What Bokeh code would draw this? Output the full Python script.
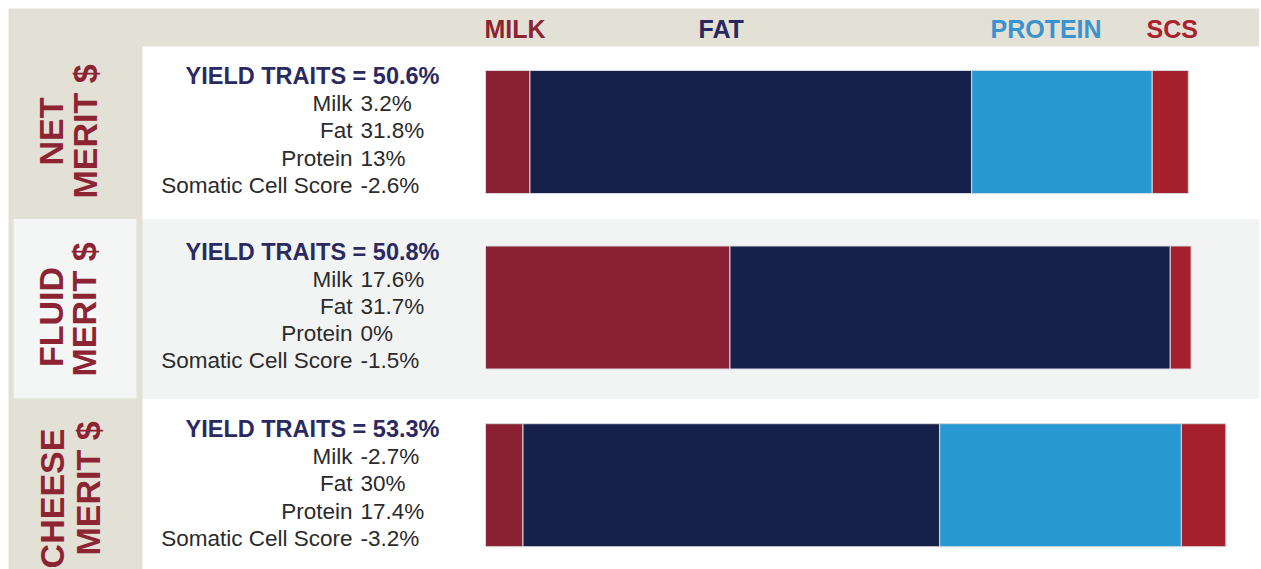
from bokeh.plotting import figure
from bokeh.models import Range1d, ColumnDataSource
from bokeh.core.properties import value
from bokeh.embed import file_html
from bokeh.resources import INLINE
import math

# ---------------- data ----------------
index_names = ["NET", "FLUID", "CHEESE"]
index_suffix = "MERIT $"
yield_total = [50.6, 50.8, 53.3]
milk = [3.2, 17.6, -2.7]
fat = [31.8, 31.7, 30.0]
protein = [13.0, 0.0, 17.4]
scs = [-2.6, -1.5, -3.2]
trait_labels = ["Milk", "Fat", "Protein", "Somatic Cell Score"]
header_labels = ["MILK", "FAT", "PROTEIN", "SCS"]

# ---------------- style / layout ----------------
seg_colors = ["#8a2233", "#172048", "#2898d2", "#a5202d"]
header_colors = ["#8b2333", "#28285f", "#3a93cf", "#a9232f"]
BEIGE = "#e3e1d6"
GREY = "#f2f3f3"
LABEL_RED = "#8c2434"
NAVY_TXT = "#2a2a60"
DARK_TXT = "#2b2b2b"
FONT = value("Liberation Sans")

W, H = 1259, 569
X0 = 485.0      # px of value 0
K = 13.89       # px per percentage point
ROW_C = [131.5, 307.0, 484.7]
BAR_H = 123
HEADER_X = [484, 698, 990, 1146]


def dx(px):
    return (px - X0) / K


p = figure(width=W, height=H, x_range=Range1d(dx(0), dx(W)),
           y_range=Range1d(H, 0), output_backend="svg",
           toolbar_location=None, min_border=0)
p.axis.visible = False
p.grid.visible = False
p.outline_line_color = None
p.background_fill_color = "white"
p.border_fill_color = "white"

# background + panels
panels = dict(left=[dx(8), dx(142), dx(142), dx(13), dx(142)],
              right=[dx(W), dx(W), dx(W), dx(136), dx(W)],
              top=[8, 46, 218.5, 218.5, 398],
              bottom=[H, 218.5, 398, 398, H],
              color=[BEIGE, "white", GREY, "#f4f5f5", "white"])
p.quad(left="left", right="right", top="top", bottom="bottom", color="color",
       line_color=None, source=ColumnDataSource(panels))

# bars (stacked absolute contributions)
bars = dict(y=[], left=[], right=[], color=[])
for i in range(3):
    vals = [milk[i], fat[i], protein[i], scs[i]]
    start = 0.0
    for j, v in enumerate(vals):
        a = abs(v)
        if a > 0:
            bars["y"].append(ROW_C[i])
            bars["left"].append(start)
            bars["right"].append(start + a)
            bars["color"].append(seg_colors[j])
        start += a
p.hbar(y="y", left="left", right="right", height=BAR_H, fill_color="color",
       line_color="#d8d8e0", line_width=1, source=ColumnDataSource(bars))

# header labels
p.text(x=[dx(v) for v in HEADER_X], y=[28] * 4, text=header_labels,
       text_color=header_colors, text_font=FONT, text_font_size="25px",
       text_font_style="bold", text_align="left", text_baseline="middle")

# rotated row labels
NAME_CY = [131, 316.5, 498]
SUF_CY = [131, 309, 488]
p.text(x=[dx(50.5), dx(50.5), dx(51.5)], y=NAME_CY, text=index_names, angle=math.pi / 2,
       text_color=LABEL_RED, text_font=FONT, text_font_size="34px",
       text_font_style="bold", text_align="center", text_baseline="middle")
p.text(x=[dx(84), dx(83), dx(87)], y=SUF_CY, text=[index_suffix] * 3, angle=math.pi / 2,
       text_color=LABEL_RED, text_font=FONT, text_font_size="34px",
       text_font_style="bold", text_align="center", text_baseline="middle")

# yield texts
p.text(x=[dx(439)] * 3, y=[c - 56 for c in ROW_C],
       text=[f"YIELD TRAITS = {t:g}%" for t in yield_total],
       text_color=NAVY_TXT, text_font=FONT, text_font_size="23.5px",
       text_font_style="bold", text_align="right", text_baseline="middle")

# trait lines
offs = [-28.5, -1.3, 26, 53.2]
lx, ly, lt, vx, vy, vt = [], [], [], [], [], []
for i in range(3):
    vals = [milk[i], fat[i], protein[i], scs[i]]
    for j in range(4):
        ly.append(ROW_C[i] + offs[j]); lt.append(trait_labels[j]); lx.append(dx(352))
        vy.append(ROW_C[i] + offs[j]); vt.append(f"{vals[j]:g}%"); vx.append(dx(360))
p.text(x=lx, y=ly, text=lt, text_color=DARK_TXT, text_font=FONT,
       text_font_size="22.5px", text_align="right", text_baseline="middle")
p.text(x=vx, y=vy, text=vt, text_color=DARK_TXT, text_font=FONT,
       text_font_size="22.5px", text_align="left", text_baseline="middle")

open("out.html", "w").write(file_html(p, INLINE))
